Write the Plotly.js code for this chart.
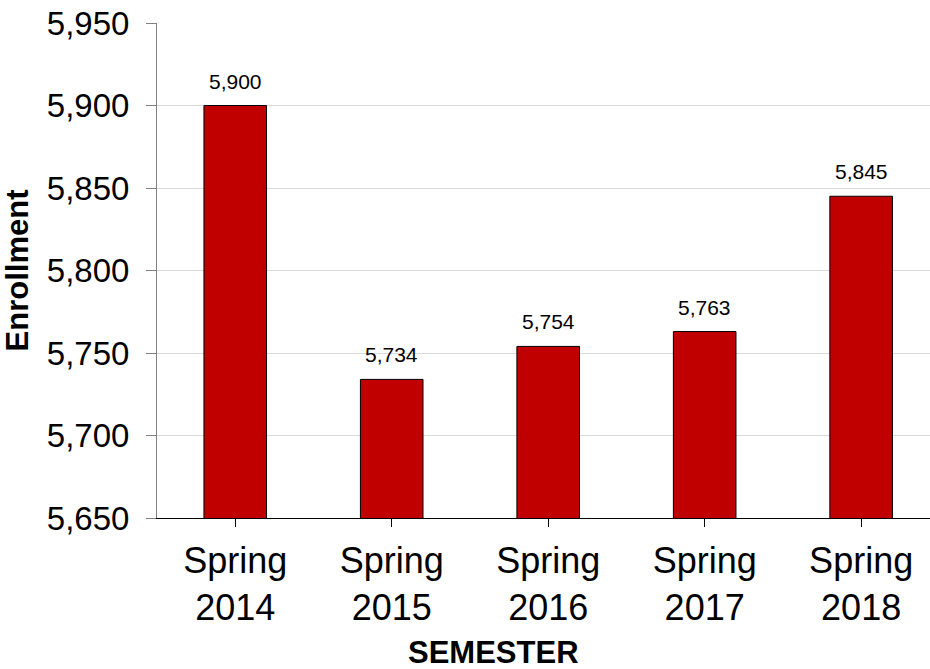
<!DOCTYPE html>
<html>
<head>
<meta charset="utf-8">
<script src="https://cdn.plot.ly/plotly-3.0.1.min.js"></script>
<style>html,body{margin:0;padding:0;background:#fff;}#chart{width:930px;height:669px;}</style>
</head>
<body>
<div id="chart"></div>
<script>
const categories = ["Spring<br>2014", "Spring<br>2015", "Spring<br>2016", "Spring<br>2017", "Spring<br>2018"];
const enrollment = [5900, 5734, 5754, 5763, 5845];
const labels = enrollment.map(v => v.toLocaleString('en-US'));

const trace = {
  type: 'bar',
  x: categories,
  y: enrollment,
  width: 0.4,
  marker: {color: '#C00000', line: {color: '#000000', width: 1}},
  hoverinfo: 'none'
};

const annotations = categories.map((c, i) => ({
  x: c, y: enrollment[i], xref: 'x', yref: 'y',
  text: labels[i], showarrow: false, yanchor: 'bottom', yshift: 11,
  font: {family: 'Liberation Sans, Arial, sans-serif', size: 21, color: '#000'}
}));
annotations.push({
  xref: 'paper', yref: 'paper', x: 0.435, y: -0.312,
  xanchor: 'center', yanchor: 'bottom', showarrow: false,
  text: '<b>SEMESTER</b>',
  font: {family: 'Liberation Sans, Arial, sans-serif', size: 31, color: '#000'}
});

const layout = {
  width: 930, height: 669,
  margin: {l: 157, r: 0, t: 23, b: 151},
  paper_bgcolor: '#ffffff', plot_bgcolor: '#ffffff',
  showlegend: false,
  font: {family: 'Liberation Sans, Arial, sans-serif', color: '#000'},
  xaxis: {
    type: 'category',
    range: [-0.5, 4.44],
    showline: true, linecolor: '#000000', linewidth: 1,
    ticks: 'outside', ticklen: 8, tickcolor: '#000000',
    tickfont: {size: 36, color: '#000'},
    ticklabelstandoff: 3,
    showgrid: false, zeroline: false
  },
  yaxis: {
    range: [5650, 5950], dtick: 50, tick0: 5650,
    tickformat: ',',
    showline: true, linecolor: '#808080', linewidth: 1,
    ticks: 'outside', ticklen: 10, tickcolor: '#808080',
    tickfont: {size: 33, color: '#000'},
    ticklabelstandoff: 10,
    showgrid: true, gridcolor: '#d9d9d9', gridwidth: 1,
    zeroline: false,
    title: {text: 'Enrollment', font: {size: 31, color: '#000', weight: 'bold'}, standoff: 8}
  },
  annotations: annotations
};

Plotly.newPlot('chart', [trace], layout, {displayModeBar: false, staticPlot: true});
</script>
</body>
</html>
